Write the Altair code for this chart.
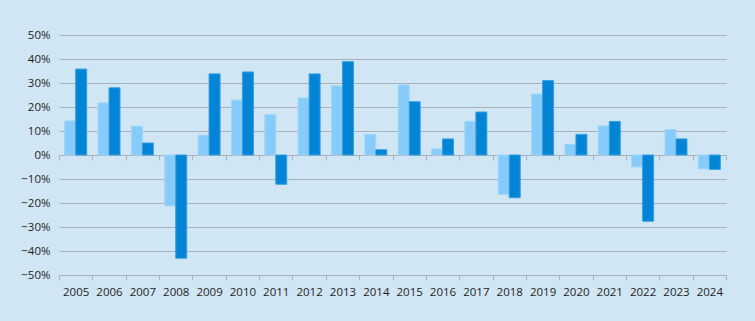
import altair as alt
import pandas as pd

years = [str(y) for y in range(2005, 2025)]
series_a = [14.2, 21.7, 12.0, -21.2, 8.3, 22.9, 16.8, 23.8, 28.8, 8.6,
            29.2, 2.6, 14.0, -16.4, 25.4, 4.4, 12.1, -5.0, 10.6, -5.8]
series_b = [35.8, 28.0, 5.0, -43.0, 33.8, 34.6, -12.2, 33.8, 38.9, 2.2,
            22.2, 6.7, 17.9, -17.8, 31.0, 8.6, 14.0, -27.6, 6.7, -6.0]
series_names = ["Series 1", "Series 2"]
y_ticks = [-50, -40, -30, -20, -10, 0, 10, 20, 30, 40, 50]

rows = []
for i, yr in enumerate(years):
    rows.append({"year": yr, "series": series_names[0], "value": series_a[i] / 100})
    rows.append({"year": yr, "series": series_names[1], "value": series_b[i] / 100})
df = pd.DataFrame(rows)

FONT = "Open Sans"
W, H = 667, 240
GRID = "#A8B2BA"

x_scale = alt.Scale(paddingInner=0, paddingOuter=0)

bars = alt.Chart(df).mark_bar(strokeWidth=1).encode(
    x=alt.X("year:N", scale=x_scale, sort=years,
            axis=alt.Axis(title=None, labelAngle=0, tickBand="extent", ticks=True,
                          tickSize=5, tickColor=GRID, domainColor=GRID,
                          labelPadding=6, labelFont=FONT, labelFontSize=11.5,
                          labelColor="#1E1E1E", grid=False)),
    xOffset=alt.XOffset("series:N", scale=alt.Scale(paddingInner=0, paddingOuter=0.516)),
    y=alt.Y("value:Q", scale=alt.Scale(domain=[-0.5, 0.5], nice=False),
            axis=alt.Axis(title=None, values=[v / 100 for v in y_ticks], format=".0%",
                          ticks=False, domain=False, labelPadding=9, labelFont=FONT,
                          labelFontSize=11.5, labelColor="#1E1E1E",
                          gridColor=GRID, gridWidth=1)),
    color=alt.Color("series:N", legend=None,
                    scale=alt.Scale(domain=series_names, range=["#87CBFB", "#0384D4"])),
    stroke=alt.Stroke("series:N", legend=None,
                      scale=alt.Scale(domain=series_names, range=["#9FD6FB", "#35A0E2"])),
)

zero_axis = alt.Chart(df).mark_rule(opacity=0).encode(
    x=alt.X("year:N", scale=x_scale, sort=years,
            axis=alt.Axis(title=None, orient="bottom", offset=-H / 2, labels=False,
                          tickBand="extent", tickSize=5, tickColor=GRID,
                          domainColor=GRID, grid=False)),
    y=alt.value(H / 2),
)

chart = alt.layer(bars, zero_axis).resolve_axis(x="independent").properties(
    width=W, height=H,
    background="#D0E6F4",
    autosize=alt.AutoSizeParams(type="none"),
    padding={"left": 59, "top": 35, "right": 29, "bottom": 46},
).configure_view(stroke=None)

chart.save("out.html", embed_options={"renderer": "svg", "actions": False})
